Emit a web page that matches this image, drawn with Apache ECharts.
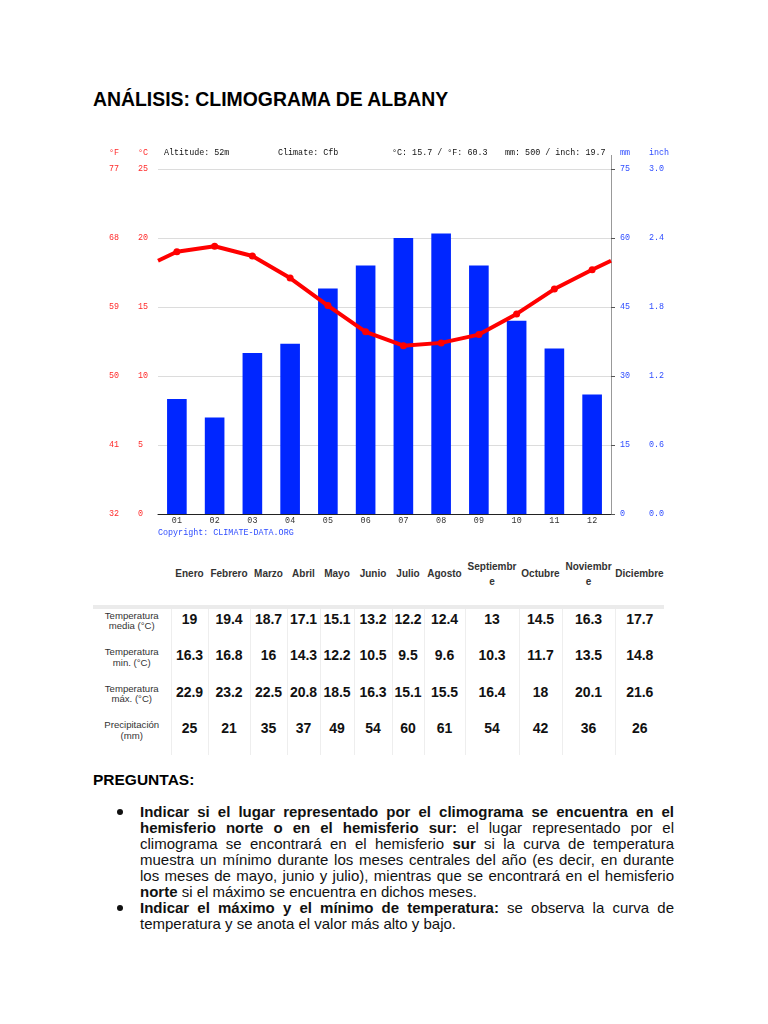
<!DOCTYPE html>
<html>
<head>
<meta charset="utf-8">
<script src="https://cdn.jsdelivr.net/npm/echarts@6/dist/echarts.min.js"></script>
<style>
  html, body { margin: 0; padding: 0; background: #fff; }
  body { width: 768px; height: 1024px; position: relative; overflow: hidden; font-family: "Liberation Sans", Arial, sans-serif; color: #000; }
  #chart { position: absolute; left: 0; top: 130px; width: 768px; height: 420px; z-index: 1; }
  .abs { position: absolute; z-index: 2; }
  #title { left: 93px; top: 88px; font-size: 19.4px; font-weight: bold; line-height: 22px; white-space: nowrap; }
  table { border-collapse: collapse; table-layout: fixed; }
  #head { left: 93px; top: 555px; width: 571px; }
  #head td { height: 38px; padding: 0; text-align: center; vertical-align: middle; font-size: 10px; font-weight: bold; color: #333; line-height: 12px; }
  #head td.two { line-height: 15px; }
  #band { left: 93px; top: 605px; width: 571px; height: 4px; background: #ebebeb; }
  #data { left: 93px; top: 609px; width: 571px; }
  #data tr { height: 36.6px; }
  #data td { padding: 1.5px 0 0 0; vertical-align: top; text-align: center; border-left: 1px solid #eee; }
  #data td.lab { border-left: none; font-size: 9.6px; line-height: 10.5px; color: #333; }
  #data td.val { font-size: 14px; font-weight: bold; line-height: 16px; color: #111; }
  #preg { left: 93px; top: 771px; font-size: 15.5px; font-weight: bold; line-height: 18px; }
  #list { left: 140px; top: 804px; width: 534px; font-size: 15px; line-height: 16px; color: #111; }
  #list .ln { height: 16px; white-space: normal; }
  #list .j { text-align: justify; text-align-last: justify; }
  .dot { position: absolute; width: 6px; height: 6px; border-radius: 50%; background: #111; left: -23px; }
</style>
</head>
<body>
<div id="chart"></div>
<div id="title" class="abs">ANÁLISIS: CLIMOGRAMA DE ALBANY</div>
<table id="head" class="abs"><colgroup id="cg1"></colgroup><tr id="headRow"></tr></table>
<div id="band" class="abs"></div>
<table id="data" class="abs"><colgroup id="cg2"></colgroup><tbody id="dataBody"></tbody></table>
<div id="preg" class="abs">PREGUNTAS:</div>
<div id="list" class="abs">
  <div class="ln j" style="position:relative"><span class="dot" style="top:5px"></span><b>Indicar si el lugar representado por el climograma se encuentra en el</b></div>
  <div class="ln j"><b>hemisferio norte o en el hemisferio sur:</b> el lugar representado por el</div>
  <div class="ln j">climograma se encontrará en el hemisferio <b>sur</b> si la curva de temperatura</div>
  <div class="ln j">muestra un mínimo durante los meses centrales del año (es decir, en durante</div>
  <div class="ln j">los meses de mayo, junio y julio), mientras que se encontrará en el hemisferio</div>
  <div class="ln"><b>norte</b> si el máximo se encuentra en dichos meses.</div>
  <div class="ln j" style="position:relative"><span class="dot" style="top:5px"></span><b>Indicar el máximo y el mínimo de temperatura:</b> se observa la curva de</div>
  <div class="ln">temperatura y se anota el valor más alto y bajo.</div>
</div>
<script>
// ---- data ----
const monthTicks = ['01','02','03','04','05','06','07','08','09','10','11','12'];
const monthNames = ['Enero','Febrero','Marzo','Abril','Mayo','Junio','Julio','Agosto','Septiembre','Octubre','Noviembre','Diciembre'];
const tempMean = [19, 19.4, 18.7, 17.1, 15.1, 13.2, 12.2, 12.4, 13, 14.5, 16.3, 17.7];
const tempMin  = [16.3, 16.8, 16, 14.3, 12.2, 10.5, 9.5, 9.6, 10.3, 11.7, 13.5, 14.8];
const tempMax  = [22.9, 23.2, 22.5, 20.8, 18.5, 16.3, 15.1, 15.5, 16.4, 18, 20.1, 21.6];
const precip   = [25, 21, 35, 37, 49, 54, 60, 61, 54, 42, 36, 26];
const rowLabels = [['Temperatura','media (°C)'], ['Temperatura','min. (°C)'], ['Temperatura','máx. (°C)'], ['Precipitación','(mm)']];
const headerTexts = { altitude: 'Altitude: 52m', climate: 'Climate: Cfb', temp: '°C: 15.7 / °F: 60.3', rain: 'mm: 500 / inch: 19.7', copyright: 'Copyright: CLIMATE-DATA.ORG' };
const colWidths = [78, 37, 42, 37, 33, 34, 38, 32, 41, 54, 43, 53, 49];

// ---- table ----
function buildCols(id) {
  const cg = document.getElementById(id);
  colWidths.forEach(w => { const c = document.createElement('col'); c.style.width = w + 'px'; cg.appendChild(c); });
}
buildCols('cg1'); buildCols('cg2');
const headRow = document.getElementById('headRow');
headRow.appendChild(document.createElement('td'));
monthNames.forEach(n => {
  const td = document.createElement('td');
  if (n === 'Septiembre' || n === 'Noviembre') {
    td.className = 'two';
    td.appendChild(document.createTextNode(n.slice(0, -1)));
    td.appendChild(document.createElement('br'));
    td.appendChild(document.createTextNode(n.slice(-1)));
  } else td.textContent = n;
  headRow.appendChild(td);
});
const body = document.getElementById('dataBody');
[tempMean, tempMin, tempMax, precip].forEach((arr, r) => {
  const tr = document.createElement('tr');
  const lab = document.createElement('td');
  lab.className = 'lab';
  lab.appendChild(document.createTextNode(rowLabels[r][0]));
  lab.appendChild(document.createElement('br'));
  lab.appendChild(document.createTextNode(rowLabels[r][1]));
  tr.appendChild(lab);
  arr.forEach(v => { const td = document.createElement('td'); td.className = 'val'; td.textContent = String(v); tr.appendChild(td); });
  body.appendChild(tr);
});

// ---- chart ----
const RED = '#ff2a2a', BLUE = '#2f4dff', MONO = '"Liberation Mono", "DejaVu Sans Mono", monospace';
const wrap = (tempMean[11] + tempMean[0]) / 2;
const lineData = [{ value: [0, wrap], symbol: 'none' }]
  .concat(tempMean.map((t, i) => [i + 0.5, t]))
  .concat([{ value: [12, wrap], symbol: 'none' }]);

const chart = echarts.init(document.getElementById('chart'), null, { renderer: 'canvas' });
const lab = (c) => ({ color: c, fontFamily: MONO, fontSize: 8.4 });
const txt = (text, x, y, fill) => ({ type: 'text', x: x, y: y, style: { text: text, fill: fill, font: '8.4px ' + MONO, verticalAlign: 'middle' } });
chart.setOption({
  animation: false,
  grid: { left: 158, top: 39, width: 453, height: 345 },
  xAxis: [
    { type: 'category', data: monthTicks, boundaryGap: true,
      axisLine: { lineStyle: { color: '#222', width: 1 } },
      axisTick: { length: 3, lineStyle: { color: '#222' } },
      axisLabel: Object.assign(lab('#333'), { margin: 3 }) },
    { type: 'value', min: 0, max: 12, show: false }
  ],
  yAxis: [
    { type: 'value', min: 0, max: 25, interval: 5, position: 'left',
      axisLine: { show: false }, axisTick: { show: false },
      splitLine: { lineStyle: { color: '#dcdcdc' } },
      axisLabel: Object.assign(lab(RED), { align: 'left', margin: 20 }) },
    { type: 'value', min: 32, max: 77, interval: 9, position: 'left',
      axisLine: { show: false }, axisTick: { show: false }, splitLine: { show: false },
      axisLabel: Object.assign(lab(RED), { align: 'left', margin: 49 }) },
    { type: 'value', min: 0, max: 75, interval: 15, position: 'right',
      axisLine: { show: true, lineStyle: { color: '#999' } },
      axisTick: { show: true, length: 4, lineStyle: { color: '#555' } },
      splitLine: { show: false },
      axisLabel: Object.assign(lab(BLUE), { align: 'left', margin: 9 }) },
    { type: 'value', min: 0, max: 3, interval: 0.6, position: 'right',
      axisLine: { show: false }, axisTick: { show: false }, splitLine: { show: false },
      axisLabel: Object.assign(lab(BLUE), { align: 'left', margin: 38, formatter: v => v.toFixed(1) }) }
  ],
  graphic: [
    txt('°F', 109, 23, RED),
    txt('°C', 138, 23, RED),
    txt(headerTexts.altitude, 164, 23, '#111'),
    txt(headerTexts.climate, 278, 23, '#111'),
    txt(headerTexts.temp, 392, 23, '#111'),
    txt(headerTexts.rain, 505, 23, '#111'),
    txt('mm', 620, 23, BLUE),
    txt('inch', 649, 23, BLUE),
    txt(headerTexts.copyright, 158, 403, BLUE),
    { type: 'line', shape: { x1: 611.5, y1: 25, x2: 611.5, y2: 39 }, style: { stroke: '#999', lineWidth: 1 } }
  ],
  series: [
    { type: 'bar', xAxisIndex: 0, yAxisIndex: 2, data: precip, barWidth: '52%',
      itemStyle: { color: '#0026ff' }, z: 2 },
    { type: 'line', xAxisIndex: 1, yAxisIndex: 0, data: lineData,
      symbol: 'circle', symbolSize: 7, showAllSymbol: true,
      lineStyle: { color: '#ff0000', width: 4 }, itemStyle: { color: '#ff0000' }, z: 3 }
  ]
});
</script>
</body>
</html>
